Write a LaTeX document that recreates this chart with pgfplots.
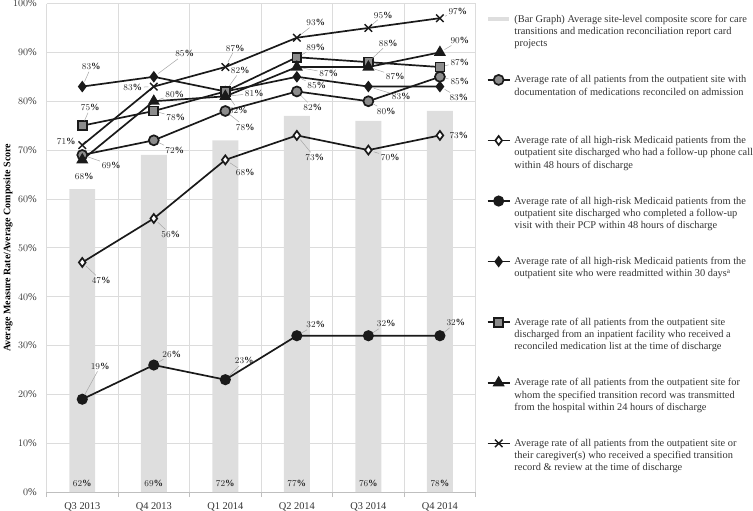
\documentclass[border=0pt]{standalone}
\usepackage{fontspec}
\setmainfont{Liberation Serif}
\usepackage{pgfplots}
\usepackage{pgfplotstable}
\pgfplotsset{compat=1.18}

\definecolor{barc}{HTML}{DEDEDE}
\definecolor{gridc}{HTML}{DCDCDC}
\definecolor{axisc}{HTML}{BFBFBF}
\definecolor{mgray}{HTML}{8C8C8C}
\definecolor{linec}{HTML}{1A1A1A}
\definecolor{leader}{HTML}{A6A6A6}
\definecolor{txt}{HTML}{333333}
\definecolor{lab}{HTML}{262626}

\newcommand\labfont{\fontsize{9.5}{10}\selectfont\bfseries}
\newcommand\tickfont{\fontsize{10.4}{12}\selectfont}
\newcommand\LE[1]{\parbox[t][60.7pt][t]{239pt}{\fontsize{10.4}{12.3}\selectfont\strut #1}}

% label offsets lx, ly (pt) from the point; op = leader line on/off
\pgfplotstableread{
x y
0 62
1 69
2 72
3 77
4 76
5 78
}\bars
\pgfplotstableread{
x y lx ly op
0 69 29 -10 1
1 72 21 -10 1
2 78 20 -16 1
3 82 16 -16 1
4 80 18 -10 1
5 85 20 -5 1
}\circgray
\pgfplotstableread{
x y lx ly op
0 47 19 -18 1
1 56 17 -16 1
2 68 20 -13 1
3 73 18 -22 1
4 70 22 -7 1
5 73 19 0 0
}\diawhite
\pgfplotstableread{
x y lx ly op
0 19 18 33 1
1 26 18 11 1
2 23 19 19 1
3 32 19 11 1
4 32 18 12 1
5 32 16 13 1
}\circblack
\pgfplotstableread{
x y lx ly op
0 83 9 20 1
1 85 31 23 1
2 82 15 21 1
3 85 20 -9 1
4 83 33 -10 1
5 83 19 -11 1
}\diablack
\pgfplotstableread{
x y lx ly op
0 75 8 18 1
1 78 22 -6 1
2 82 13 -19 1
3 89 19 10 1
4 88 20 19 1
5 87 20 5 1
}\squares
\pgfplotstableread{
x y lx ly op
0 68 2 -17 0
1 80 21 7 1
2 81 29 3 1
3 87 32 -6 1
4 87 27 -9 1
5 90 20 12 1
}\triang
\pgfplotstableread{
x y lx ly op
0 71 -16 4 1
1 83 -21 -1 1
2 87 10 19 1
3 93 19 15 1
4 95 15 13 1
5 97 18 7 1
}\crosses

\pgfplotsset{
  lbl/.style={
    nodes near coords={\pgfmathprintnumber{\pgfplotspointmeta}\%},
    visualization depends on={\thisrow{lx}\as\lx},
    visualization depends on={\thisrow{ly}\as\ly},
    visualization depends on={\thisrow{op}\as\op},
    every node near coord/.style={anchor=center, inner sep=1pt, font=\labfont, text=lab,
      xshift=\lx pt, yshift=\ly pt,
      append after command={\pgfextra{\draw[leader, line width=0.5pt, draw opacity=\op, shorten >=5.5pt]
        (\tikzlastnode) -- ([xshift={-(\lx)*1pt}, yshift={-(\ly)*1pt}]\tikzlastnode.center);}}},
  },
  ser/.style={color=linec, line width=1.7pt, mark options={solid, line width=0.8pt, draw=linec}},
}

\begin{document}
\begin{tikzpicture}
\begin{axis}[
  scale only axis, width=430pt, height=489.5pt,
  xmin=-0.5, xmax=5.5, ymin=0, ymax=100,
  xtick={0,...,5},
  xticklabels={Q3 2013,Q4 2013,Q1 2014,Q2 2014,Q3 2014,Q4 2014},
  minor xtick={-0.5,0.5,...,5.5},
  ytick={0,10,...,100},
  yticklabel={\pgfmathprintnumber{\tick}\%},
  xminorgrids, ymajorgrids,
  grid style={gridc, line width=0.6pt},
  minor grid style={gridc, line width=0.6pt},
  axis x line*=bottom, axis y line*=left,
  x axis line style={color=axisc, line width=0.6pt, -},
  y axis line style={draw=none},
  major tick length=0pt, minor tick length=5pt, tick align=outside,
  minor tick style={axisc, line width=0.6pt},
  ticklabel style={font=\tickfont, text=txt},
  yticklabel style={inner sep=0pt, xshift=-9.5pt},
  xticklabel style={inner sep=0pt, yshift=-10pt},
  ylabel={Average Measure Rate/Average Composite Score},
  every axis y label/.style={at={(rel axis cs:0,0.5)}, xshift=-38.7pt, rotate=90, anchor=center,
    font=\fontsize{10}{12}\selectfont\bfseries, text=black},
  legend cell align=left,
  legend style={at={(rel axis cs:1,1)}, anchor=north west, xshift=11pt, yshift=-10pt,
    draw=none, fill=none, inner sep=0pt, row sep=0pt, column sep=4pt,
    cells={anchor=base west}, nodes={inner sep=0pt, text depth=, text height=, text=txt}},
  legend image code/.code={\draw[mark repeat=2, mark phase=2, #1]
    plot coordinates {(0pt,3pt) (11pt,3pt) (22pt,3pt)};},
]
\addplot[ybar, bar width=26pt, fill=barc, draw=none,
  legend image code/.code={\fill[barc] (0pt,0.8pt) rectangle (21pt,5.2pt);}]
  table[x=x, y=y] {\bars};
\addlegendentry{\LE{(Bar Graph) Average site-level composite score for care\\transitions and medication reconciliation report card\\projects}}

\addplot[draw=none, mark=none, forget plot, point meta=explicit,
  nodes near coords={\pgfmathprintnumber{\pgfplotspointmeta}\%},
  every node near coord/.style={anchor=center, yshift=9pt, font=\labfont, text=lab}]
  table[x=x, y expr=0, meta=y] {\bars};

\addplot[ser, lbl, mark=*, mark size=5pt, mark options={fill=mgray}] table[x=x, y=y] {\circgray};
\addlegendentry{\LE{Average rate of all patients from the outpatient site with\\documentation of medications reconciled on admission}}

\addplot[ser, lbl, mark=diamond*, mark size=4.5pt, mark options={fill=white}] table[x=x, y=y] {\diawhite};
\addlegendentry{\LE{Average rate of all high-risk Medicaid patients from the\\outpatient site discharged who had a follow-up phone call\\within 48 hours of discharge}}

\addplot[ser, lbl, mark=*, mark size=4.7pt, mark options={fill=linec}] table[x=x, y=y] {\circblack};
\addlegendentry{\LE{Average rate of all high-risk Medicaid patients from the\\outpatient site discharged who completed a follow-up\\visit with their PCP within 48 hours of discharge}}

\addplot[ser, lbl, mark=diamond*, mark size=4.5pt, mark options={fill=linec}] table[x=x, y=y] {\diablack};
\addlegendentry{\LE{Average rate of all high-risk Medicaid patients from the\\outpatient site who were readmitted within 30 days\textsuperscript{a}}}

\addplot[ser, lbl, mark=square*, mark size=4.5pt, mark options={fill=mgray}] table[x=x, y=y] {\squares};
\addlegendentry{\LE{Average rate of all patients from the outpatient site\\discharged from an inpatient facility who received a\\reconciled medication list at the time of discharge}}

\addplot[ser, lbl, mark=triangle*, mark size=5.3pt, mark options={fill=linec}] table[x=x, y=y] {\triang};
\addlegendentry{\LE{Average rate of all patients from the outpatient site for\\whom the specified transition record was transmitted\\from the hospital within 24 hours of discharge}}

\addplot[ser, lbl, mark=x, mark size=5.3pt, mark options={line width=1.4pt}] table[x=x, y=y] {\crosses};
\addlegendentry{\LE{Average rate of all patients from the outpatient site or\\their caregiver(s) who received a specified transition\\record \& review at the time of discharge}}
\end{axis}
\end{tikzpicture}
\end{document}
